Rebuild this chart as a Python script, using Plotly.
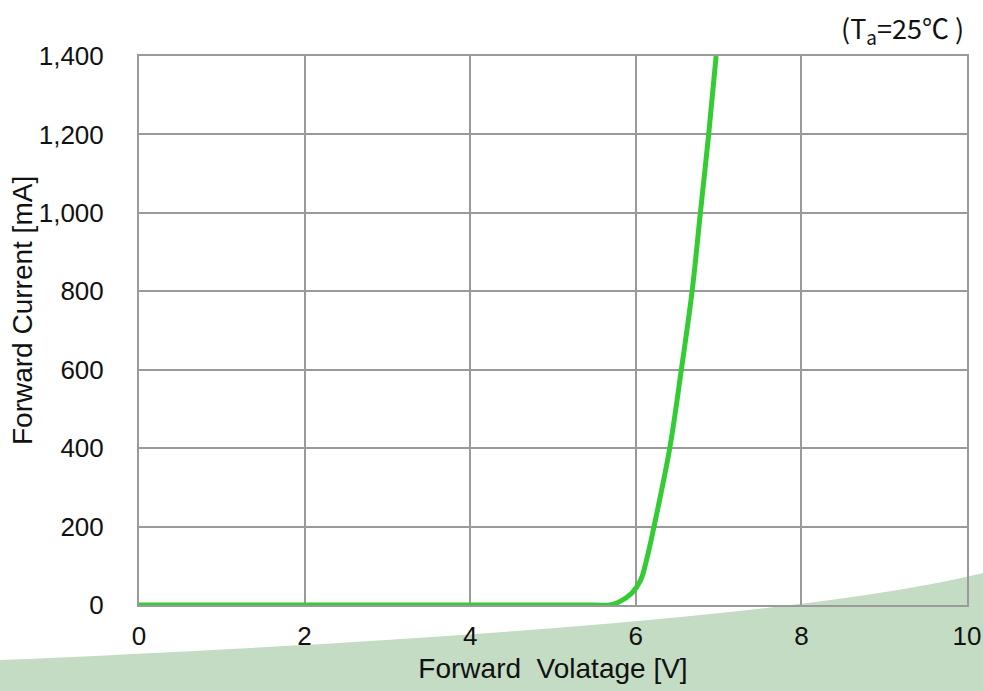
import plotly.graph_objects as go

# Data
voltage_v = [0, 2, 4, 5.5, 5.69, 5.8, 5.95, 6.06, 6.13, 6.22, 6.41, 6.55, 6.68, 6.78, 6.88, 6.97]
current_ma = [0, 0, 0, 0, 0, 8, 30, 64, 115, 200, 400, 600, 800, 1000, 1200, 1400]

x_ticks = [0, 2, 4, 6, 8, 10]
y_ticks = [0, 200, 400, 600, 800, 1000, 1200, 1400]

FONT = "Liberation Sans, Arial, sans-serif"
GRID = "#9a9a9a"

W, H = 983, 691
L, T = 139, 56
R = W - 967
B = H - 605
pw, ph = W - L - R, H - T - B


def px(x):
    return (x - L) / pw


def py(y):
    return (H - B - y) / ph


fig = go.Figure()
fig.add_trace(go.Scatter(
    x=voltage_v, y=current_ma, mode="lines",
    line=dict(color="#33cc33", width=5, shape="spline", smoothing=1.0),
    showlegend=False, hoverinfo="skip",
))

# Decorative green wave at the bottom
path = (f"M {px(0)},{py(660)} Q {px(762)},{py(627.5)} {px(983)},{py(573)} "
        f"L {px(983)},{py(691)} L {px(0)},{py(691)} Z")
fig.add_shape(type="path", path=path, xref="paper", yref="paper",
              fillcolor="#c4dcc3", line=dict(width=0), layer="below")

fig.add_annotation(text="(T<sub>a</sub>=25\u2103 )", xref="paper", yref="paper",
                   x=px(966), y=py(29), xanchor="right", yanchor="middle",
                   showarrow=False,
                   font=dict(family="Noto Sans CJK JP, Liberation Sans, sans-serif",
                             size=27, color="#111"))

fig.add_annotation(text="Forward Current [mA]", xref="paper", yref="paper",
                   x=px(22), y=py(311), xanchor="center", yanchor="middle",
                   textangle=-90, showarrow=False,
                   font=dict(family=FONT, size=28, color="#111"))

fig.update_layout(
    width=W, height=H,
    margin=dict(l=L, r=R, t=T, b=B, autoexpand=False),
    paper_bgcolor="white",
    plot_bgcolor="rgba(0,0,0,0)",
    font=dict(family=FONT, size=26, color="#111"),
    xaxis=dict(
        range=[0, 10], tickvals=x_ticks, ticktext=[str(v) for v in x_ticks],
        automargin=False, ticklabeloverflow="allow",
        showgrid=True, gridcolor=GRID, gridwidth=2,
        showline=True, linecolor=GRID, linewidth=2, mirror=True,
        zeroline=False, ticks="", ticklabelstandoff=7,
        title=dict(text="Forward\u00a0 Volatage [V]", font=dict(size=28), standoff=8),
    ),
    yaxis=dict(
        range=[0, 1400], tickvals=y_ticks, tickformat=",d",
        automargin=False,
        showgrid=True, gridcolor=GRID, gridwidth=2,
        showline=True, linecolor=GRID, linewidth=2, mirror=True,
        zeroline=False, ticks="", ticklabelstandoff=28,
    ),
)

fig.write_html(
    "out.html",
    config={"displayModeBar": False},
    post_script="document.body.style.margin='0';document.body.style.overflow='hidden';",
)
